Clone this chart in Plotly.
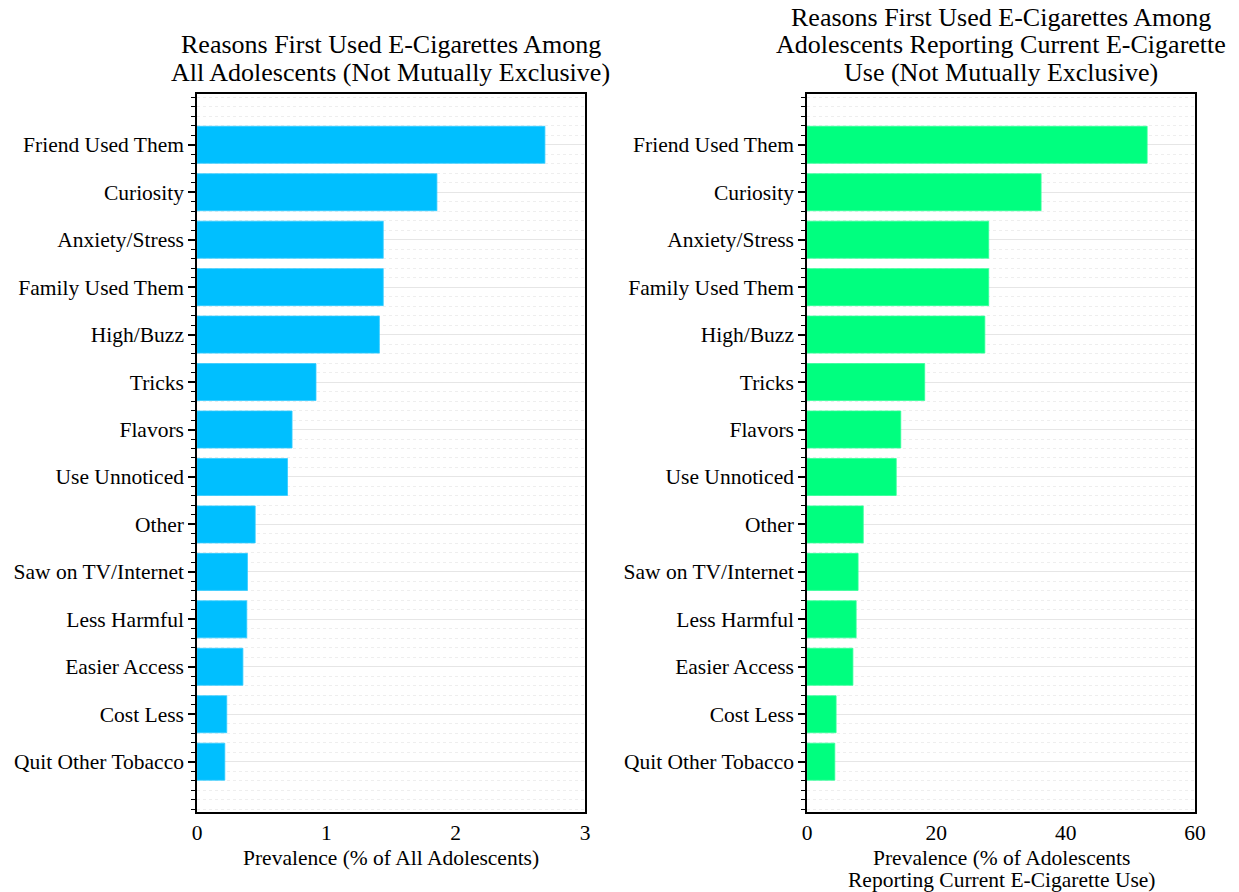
import plotly.graph_objects as go

categories = ["Friend Used Them", "Curiosity", "Anxiety/Stress", "Family Used Them",
              "High/Buzz", "Tricks", "Flavors", "Use Unnoticed", "Other",
              "Saw on TV/Internet", "Less Harmful", "Easier Access", "Cost Less",
              "Quit Other Tobacco"]
all_adolescents = [2.69, 1.855, 1.44, 1.44, 1.41, 0.92, 0.735, 0.70, 0.45, 0.39,
                   0.385, 0.355, 0.23, 0.215]
current_users = [52.6, 36.2, 28.1, 28.1, 27.5, 18.2, 14.5, 13.8, 8.7, 7.9,
                 7.6, 7.1, 4.5, 4.3]
left_ticks = [0, 1, 2, 3]
right_ticks = [0, 20, 40, 60]
left_title = ["Reasons First Used E-Cigarettes Among",
              "All Adolescents (Not Mutually Exclusive)"]
right_title = ["Reasons First Used E-Cigarettes Among",
               "Adolescents Reporting Current E-Cigarette",
               "Use (Not Mutually Exclusive)"]
left_xtitle = ["Prevalence (% of All Adolescents)"]
right_xtitle = ["Prevalence (% of Adolescents", "Reporting Current E-Cigarette Use)"]

W, H = 1239, 892
n = len(categories)
ypos = [n - 1 - i for i in range(n)]

FONT = "Liberation Serif"
L_DOM = [197 / W, 585 / W]
R_DOM = [807 / W, 1195 / W]
Y_DOM = [1 - 812 / H, 1 - 94 / H]
TICK_SIZE = 21.5

fig = go.Figure()
fig.add_trace(go.Bar(x=all_adolescents, y=ypos, orientation="h", width=0.78,
                     marker=dict(color="#00BFFF", line=dict(width=0.8, color="#33CCFF")),
                     xaxis="x", yaxis="y", showlegend=False))
fig.add_trace(go.Bar(x=current_users, y=ypos, orientation="h", width=0.78,
                     marker=dict(color="#00FF7F", line=dict(width=0.8, color="#33FF99")),
                     xaxis="x2", yaxis="y2", showlegend=False))

yaxis_common = dict(
    range=[-1.06, n - 1 + 1.07], tickmode="array", tickvals=ypos, ticktext=categories,
    ticks="outside", ticklen=7, tickwidth=1.5, tickcolor="black", automargin=False,
    showline=True, linecolor="black", linewidth=1.5, mirror=True,
    showgrid=True, gridcolor="#e6e6e6", gridwidth=1,
    zeroline=False, tickfont=dict(family=FONT, size=TICK_SIZE, color="black"),
    minor=dict(dtick=0.2, tick0=0, ticks="outside", ticklen=4, tickwidth=1.2,
               tickcolor="black", showgrid=True, gridcolor="#eeeeee",
               griddash="dot", gridwidth=1),
)
xaxis_common = dict(
    ticks="", showline=True, linecolor="black", linewidth=1.5, mirror=True,
    showgrid=False, zeroline=False, tickmode="array", automargin=False,
    tickfont=dict(family=FONT, size=TICK_SIZE, color="black"),
)

annotations = []
def add_lines(lines, xc, ycenters, size):
    for txt, yc in zip(lines, ycenters):
        annotations.append(dict(text=txt, xref="paper", yref="paper", x=xc, y=1 - yc / H,
                                xanchor="center", yanchor="middle", showarrow=False,
                                font=dict(family=FONT, size=size, color="black")))

lx = (L_DOM[0] + L_DOM[1]) / 2
rx = (R_DOM[0] + R_DOM[1]) / 2
add_lines(left_title, lx, [45, 73], 26)
add_lines(right_title, rx, [17, 45, 73], 26)
add_lines(left_xtitle, lx, [858], TICK_SIZE)
add_lines(right_xtitle, rx, [858, 880], TICK_SIZE)

fig.update_layout(
    width=W, height=H, margin=dict(l=0, r=0, t=0, b=0, autoexpand=False),
    paper_bgcolor="white", plot_bgcolor="white",
    xaxis=dict(xaxis_common, domain=L_DOM, range=[0, 3], tickvals=left_ticks, anchor="y"),
    yaxis=dict(yaxis_common, domain=Y_DOM, anchor="x"),
    xaxis2=dict(xaxis_common, domain=R_DOM, range=[0, 60], tickvals=right_ticks, anchor="y2"),
    yaxis2=dict(yaxis_common, domain=Y_DOM, anchor="x2"),
    annotations=annotations,
)

fig.write_html("out.html")
